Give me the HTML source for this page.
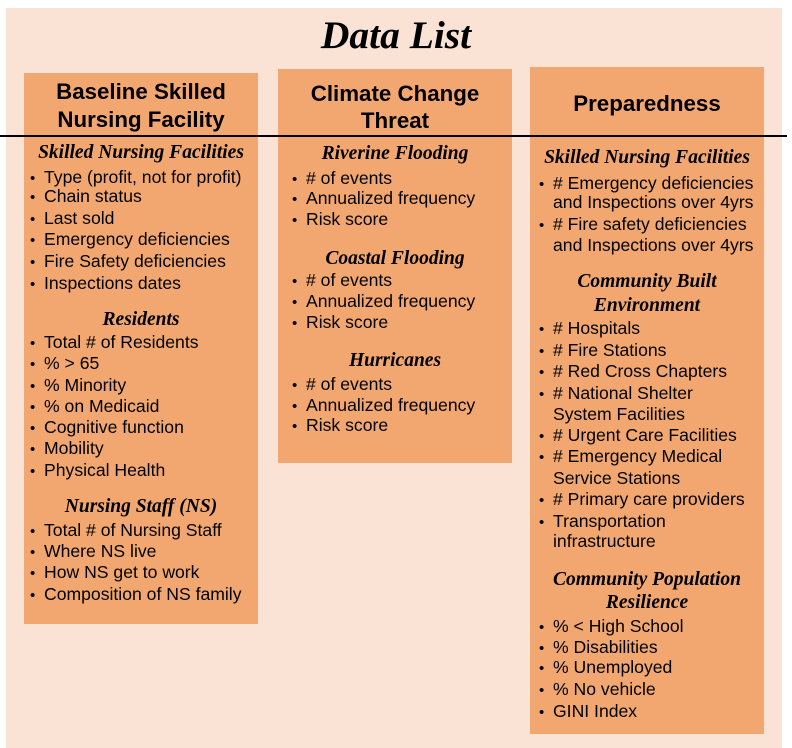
<!DOCTYPE html>
<html><head><meta charset="utf-8"><style>
body{margin:0;width:792px;height:746px;background:#fff;position:relative;overflow:hidden;font-family:"Liberation Sans",Arial,sans-serif;color:#000}
.bg{position:absolute;left:6px;top:8px;width:776px;height:740px;background:#fae2d4}
.col{position:absolute;background:#f1a76f}
.t{position:absolute;white-space:nowrap;line-height:20px;font-size:17.6px}
.h{position:absolute;white-space:nowrap;line-height:24px;font-size:22.3px;font-weight:bold;text-align:center}
.s{position:absolute;white-space:nowrap;line-height:22px;font-family:"Liberation Serif",serif;font-style:italic;font-weight:bold;font-size:19.5px;text-align:center}
.b{position:absolute;font-size:15px;line-height:20px;margin-top:2px}
</style></head><body>
<div class="bg"></div>
<div class="col" style="left:24px;top:73px;width:234px;height:551px"></div>
<div class="col" style="left:278px;top:69px;width:234px;height:394px"></div>
<div class="col" style="left:530px;top:67px;width:234px;height:667px"></div>
<div style="position:absolute;left:0;top:135px;width:787px;height:2px;background:#000"></div>
<div style="position:absolute;left:0;width:792px;top:12px;text-align:center;font-family:'Liberation Serif',serif;font-style:italic;font-weight:bold;font-size:39.5px;line-height:46px">Data List</div>

<div class="h" style="left:24px;width:234px;top:80px">Baseline Skilled</div>
<div class="h" style="left:24px;width:234px;top:108px">Nursing Facility</div>
<div class="h" style="left:278px;width:234px;top:82px">Climate Change</div>
<div class="h" style="left:278px;width:234px;top:109px">Threat</div>
<div class="h" style="left:530px;width:234px;top:92px">Preparedness</div>

<!-- col1 -->
<div class="s" style="left:24px;width:234px;top:142px">Skilled Nursing Facilities</div>
<div class="b" style="left:30px;top:167px">•</div><div class="t" style="left:44px;top:167px">Type (profit, not for profit)</div>
<div class="b" style="left:30px;top:186px">•</div><div class="t" style="left:44px;top:186px">Chain status</div>
<div class="b" style="left:30px;top:208px">•</div><div class="t" style="left:44px;top:208px">Last sold</div>
<div class="b" style="left:30px;top:229px">•</div><div class="t" style="left:44px;top:229px">Emergency deficiencies</div>
<div class="b" style="left:30px;top:251px">•</div><div class="t" style="left:44px;top:251px">Fire Safety deficiencies</div>
<div class="b" style="left:30px;top:273px">•</div><div class="t" style="left:44px;top:273px">Inspections dates</div>
<div class="s" style="left:24px;width:234px;top:309px">Residents</div>
<div class="b" style="left:30px;top:332px">•</div><div class="t" style="left:44px;top:332px">Total # of Residents</div>
<div class="b" style="left:30px;top:353px">•</div><div class="t" style="left:44px;top:353px">% &gt; 65</div>
<div class="b" style="left:30px;top:375px">•</div><div class="t" style="left:44px;top:375px">% Minority</div>
<div class="b" style="left:30px;top:396px">•</div><div class="t" style="left:44px;top:396px">% on Medicaid</div>
<div class="b" style="left:30px;top:417px">•</div><div class="t" style="left:44px;top:417px">Cognitive function</div>
<div class="b" style="left:30px;top:438px">•</div><div class="t" style="left:44px;top:438px">Mobility</div>
<div class="b" style="left:30px;top:460px">•</div><div class="t" style="left:44px;top:460px">Physical Health</div>
<div class="s" style="left:24px;width:234px;top:496px">Nursing Staff (NS)</div>
<div class="b" style="left:30px;top:520px">•</div><div class="t" style="left:44px;top:520px">Total # of Nursing Staff</div>
<div class="b" style="left:30px;top:541px">•</div><div class="t" style="left:44px;top:541px">Where NS live</div>
<div class="b" style="left:30px;top:562px">•</div><div class="t" style="left:44px;top:562px">How NS get to work</div>
<div class="b" style="left:30px;top:584px">•</div><div class="t" style="left:44px;top:584px">Composition of NS family</div>

<!-- col2 -->
<div class="s" style="left:278px;width:234px;top:143px">Riverine Flooding</div>
<div class="b" style="left:292px;top:168px">•</div><div class="t" style="left:306px;top:168px"># of events</div>
<div class="b" style="left:292px;top:188px">•</div><div class="t" style="left:306px;top:188px">Annualized frequency</div>
<div class="b" style="left:292px;top:209px">•</div><div class="t" style="left:306px;top:209px">Risk score</div>
<div class="s" style="left:278px;width:234px;top:248px">Coastal Flooding</div>
<div class="b" style="left:292px;top:270px">•</div><div class="t" style="left:306px;top:270px"># of events</div>
<div class="b" style="left:292px;top:291px">•</div><div class="t" style="left:306px;top:291px">Annualized frequency</div>
<div class="b" style="left:292px;top:312px">•</div><div class="t" style="left:306px;top:312px">Risk score</div>
<div class="s" style="left:278px;width:234px;top:350px">Hurricanes</div>
<div class="b" style="left:292px;top:374px">•</div><div class="t" style="left:306px;top:374px"># of events</div>
<div class="b" style="left:292px;top:395px">•</div><div class="t" style="left:306px;top:395px">Annualized frequency</div>
<div class="b" style="left:292px;top:415px">•</div><div class="t" style="left:306px;top:415px">Risk score</div>

<!-- col3 -->
<div class="s" style="left:530px;width:234px;top:147px">Skilled Nursing Facilities</div>
<div class="b" style="left:539px;top:173px">•</div><div class="t" style="left:553px;top:173px"># Emergency deficiencies</div>
<div class="t" style="left:553px;top:192px">and Inspections over 4yrs</div>
<div class="b" style="left:539px;top:214px">•</div><div class="t" style="left:553px;top:214px"># Fire safety deficiencies</div>
<div class="t" style="left:553px;top:235px">and Inspections over 4yrs</div>
<div class="s" style="left:530px;width:234px;top:271px">Community Built</div>
<div class="s" style="left:530px;width:234px;top:295px">Environment</div>
<div class="b" style="left:539px;top:318px">•</div><div class="t" style="left:553px;top:318px"># Hospitals</div>
<div class="b" style="left:539px;top:340px">•</div><div class="t" style="left:553px;top:340px"># Fire Stations</div>
<div class="b" style="left:539px;top:361px">•</div><div class="t" style="left:553px;top:361px"># Red Cross Chapters</div>
<div class="b" style="left:539px;top:383px">•</div><div class="t" style="left:553px;top:383px"># National Shelter</div>
<div class="t" style="left:553px;top:404px">System Facilities</div>
<div class="b" style="left:539px;top:425px">•</div><div class="t" style="left:553px;top:425px"># Urgent Care Facilities</div>
<div class="b" style="left:539px;top:446px">•</div><div class="t" style="left:553px;top:446px"># Emergency Medical</div>
<div class="t" style="left:553px;top:468px">Service Stations</div>
<div class="b" style="left:539px;top:489px">•</div><div class="t" style="left:553px;top:489px"># Primary care providers</div>
<div class="b" style="left:539px;top:511px">•</div><div class="t" style="left:553px;top:511px">Transportation</div>
<div class="t" style="left:553px;top:531px">infrastructure</div>
<div class="s" style="left:530px;width:234px;top:569px">Community Population</div>
<div class="s" style="left:530px;width:234px;top:592px">Resilience</div>
<div class="b" style="left:539px;top:616px">•</div><div class="t" style="left:553px;top:616px">% &lt; High School</div>
<div class="b" style="left:539px;top:637px">•</div><div class="t" style="left:553px;top:637px">% Disabilities</div>
<div class="b" style="left:539px;top:657px">•</div><div class="t" style="left:553px;top:657px">% Unemployed</div>
<div class="b" style="left:539px;top:679px">•</div><div class="t" style="left:553px;top:679px">% No vehicle</div>
<div class="b" style="left:539px;top:701px">•</div><div class="t" style="left:553px;top:701px">GINI Index</div>
</body></html>
